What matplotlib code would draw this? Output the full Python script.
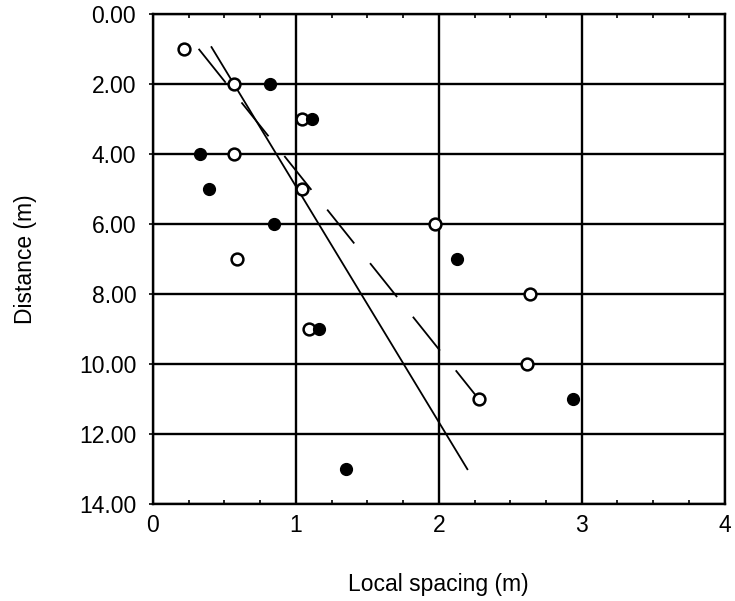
import numpy as np
import matplotlib.pyplot as plt
from matplotlib.ticker import MultipleLocator, FormatStrFormatter

plt.rcParams['font.family'] = ['Liberation Sans', 'DejaVu Sans']

# open circles
open_x = [0.22, 0.57, 1.04, 0.57, 1.04, 1.97, 0.59, 2.64, 1.09, 2.62, 2.28]
open_y = [1, 2, 3, 4, 5, 6, 7, 8, 9, 10, 11]

# filled circles
fill_x = [0.82, 1.11, 0.33, 0.39, 0.85, 2.13, 1.16, 2.94, 1.35]
fill_y = [2, 3, 4, 5, 6, 7, 9, 11, 13]

# fitted lines (end points)
solid_x = [0.41, 2.20]
solid_y = [0.95, 13.0]
dash_x = [0.32, 2.26]
dash_y = [1.0, 10.9]

fig = plt.figure(figsize=(7.35, 6.01), dpi=100)
ax = fig.add_axes([0.208, 0.161, 0.778, 0.816])

ax.set_xlim(0, 4)
ax.set_ylim(14, 0)
ax.xaxis.set_major_locator(MultipleLocator(1))
ax.xaxis.set_minor_locator(MultipleLocator(0.25))
ax.yaxis.set_major_locator(MultipleLocator(2))
ax.yaxis.set_major_formatter(FormatStrFormatter('%.2f'))

ax.grid(True, which='major', color='black', linewidth=1.7)
ax.set_axisbelow(True)
for s in ax.spines.values():
    s.set_linewidth(1.7)

ax.tick_params(axis='x', which='major', length=0, labelsize=16.5, pad=7)
ax.tick_params(axis='x', which='minor', direction='in', length=3, width=1.2, top=True)
ax.tick_params(axis='y', which='major', length=3, width=1.2, labelsize=16.5, pad=9)

ax.plot(solid_x, solid_y, color='black', linewidth=1.3)
ax.plot(dash_x, dash_y, color='black', linewidth=1.3, dashes=(24, 14))

ax.plot(open_x, open_y, 'o', ms=8.5, mfc='white', mec='black', mew=1.8, linestyle='none')
ax.plot(fill_x, fill_y, 'o', ms=8.5, mfc='black', mec='black', linestyle='none')

ax.set_xlabel('Local spacing (m)', fontsize=16.5, labelpad=26)
ax.set_ylabel('Distance (m)', fontsize=16.5, labelpad=30)

fig.savefig('out.png', dpi=100)
